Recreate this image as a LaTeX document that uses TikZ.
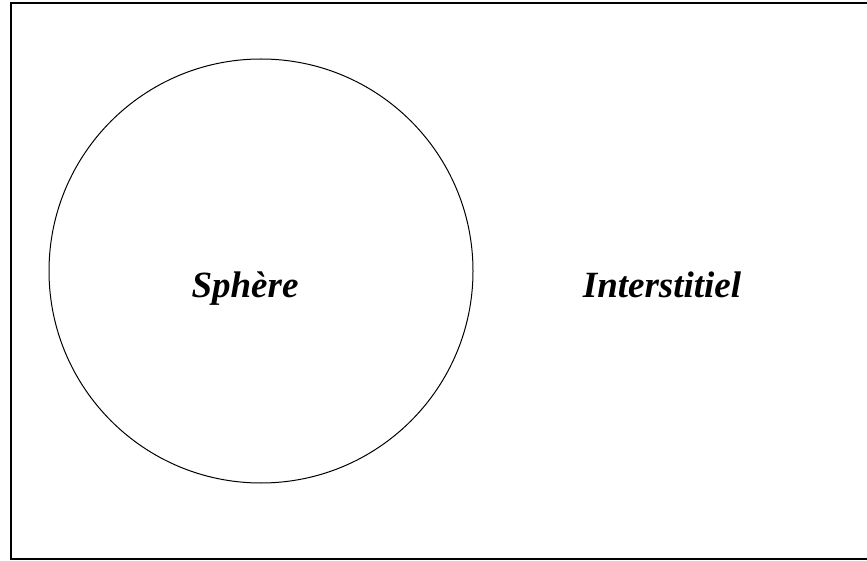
\documentclass[tikz,border=0pt]{standalone}
\usepackage{fontspec}
\setmainfont{Liberation Serif}
\begin{document}
\begin{tikzpicture}[x=1pt,y=-1pt, every node/.style={font=\fontsize{37}{40}\selectfont\bfseries\itshape}, region/.style={anchor=base,inner sep=0pt}]
\useasboundingbox (0,0) rectangle (867,561);
\clip (0,0) rectangle (867,561);
\draw[line width=2pt] (11,3) rectangle (880,559);
\coordinate (c) at (261,271);
\draw[line width=1pt] (c) circle[radius=212];
\node[region] (sphere) at (245,298) {Sphère};
\node[region] (inter) at (662,298) {Interstitiel};
\end{tikzpicture}
\end{document}
